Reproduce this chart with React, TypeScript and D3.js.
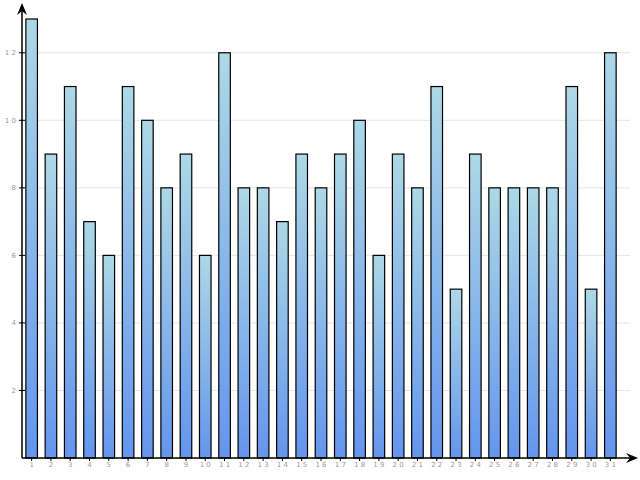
import React from "react";
import * as d3 from "d3";

const categories = Array.from({ length: 31 }, (_, i) => String(i + 1));
const values = [13, 9, 11, 7, 6, 11, 10, 8, 9, 6, 12, 8, 8, 7, 9, 8, 9, 10, 6, 9, 8, 11, 5, 9, 8, 8, 8, 8, 11, 5, 12];
const yTicks = [2, 4, 6, 8, 10, 12];

export default function App() {
  const W = 640, H = 480;
  const x0 = 22, x1 = 620, yBase = 458;
  const x = d3.scaleBand<string>().domain(categories).range([x0, x1]).paddingInner(0.4).paddingOuter(0.2);
  const y = d3.scaleLinear().domain([0, 13]).range([yBase, 19]);
  const spaced = (s: string) => s.split("").join(" ");
  return (
    <svg width={W} height={H} style={{ position: "absolute", left: 0, top: 0 }}>
      <defs>
        <linearGradient id="bg" x1="0" y1="0" x2="0" y2="1">
          <stop offset="0%" stopColor="#add8e6" />
          <stop offset="100%" stopColor="#6495ed" />
        </linearGradient>
      </defs>
      {yTicks.map((t) => (
        <g key={t}>
          <line x1={x0} x2={630} y1={y(t)} y2={y(t)} stroke="#e6e6e6" strokeWidth={1} />
          <line x1={19} x2={25} y1={y(t)} y2={y(t)} stroke="#000" strokeWidth={1} />
          <text x={16} y={y(t) + 2.5} textAnchor="end" fontSize={7} fill="#999" fontFamily="DejaVu Sans">
            {spaced(String(t))}
          </text>
        </g>
      ))}
      {values.map((v, i) => (
        <rect
          key={i}
          x={x(categories[i])!}
          y={y(v)}
          width={x.bandwidth()}
          height={yBase - y(v)}
          fill="url(#bg)"
          stroke="#000"
          strokeWidth={1.2}
        />
      ))}
      {categories.map((c) => {
        const cx = x(c)! + x.bandwidth() / 2;
        return (
          <g key={c}>
            <line x1={cx} x2={cx} y1={yBase} y2={yBase + 3} stroke="#000" strokeWidth={1} />
            <text x={cx} y={yBase + 8.5} textAnchor="middle" fontSize={7} fill="#999" fontFamily="DejaVu Sans">
              {spaced(c)}
            </text>
          </g>
        );
      })}
      <line x1={x0} x2={x0} y1={yBase} y2={6} stroke="#000" strokeWidth={1.5} />
      <line x1={x0} x2={634} y1={yBase} y2={yBase} stroke="#000" strokeWidth={1.5} />
      <path d={`M${x0},3 L${x0 + 5},15 L${x0},11 L${x0 - 5},15 Z`} fill="#000" />
      <path d={`M638,${yBase} L626,${yBase - 5} L630,${yBase} L626,${yBase + 5} Z`} fill="#000" />
    </svg>
  );
}
